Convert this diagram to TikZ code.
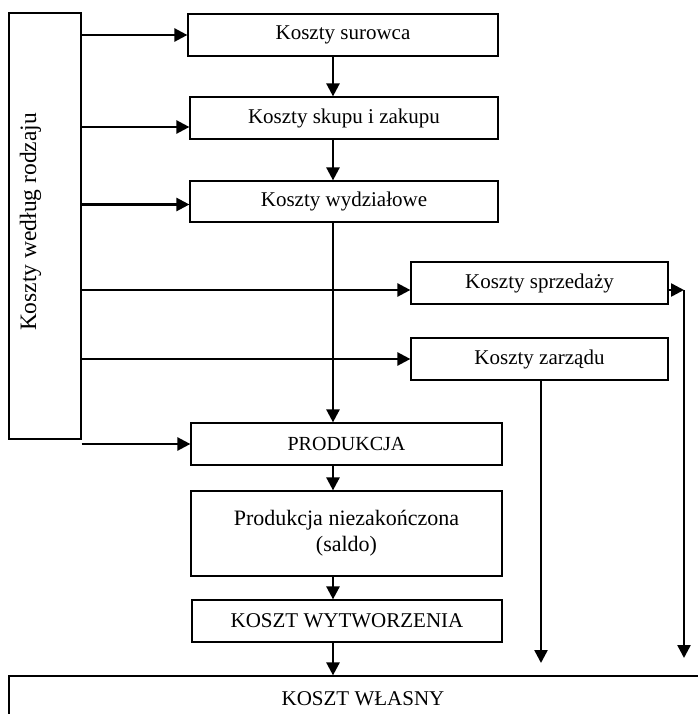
\documentclass[tikz,border=0pt]{standalone}
\usepackage{fontspec}
\setmainfont{Liberation Serif}
\usetikzlibrary{arrows.meta}

\tikzset{
  box/.style={draw, line width=1.2pt, rectangle, inner sep=0pt, font=\fontsize{21}{25}\selectfont},
  arr/.style={line width=2.5pt, -{Triangle[length=13pt,width=13pt]}},
}

\begin{document}
\begin{tikzpicture}[x=1pt,y=-1pt]
  \useasboundingbox (0,0) rectangle (697,714);
  \node[box, minimum width=72pt, minimum height=426pt] (wedlug) at (45,226) {};
  \node[rotate=90, anchor=base, font=\fontsize{23.5}{27}\selectfont] (wedlugtxt) at (36,222) {Koszty według rodzaju};
  \node[box, minimum width=310pt, minimum height=42pt] (surowca) at (343,35) {Koszty surowca};
  \node[box, minimum width=308pt, minimum height=42pt] (skupu) at (344,118) {Koszty skupu i zakupu};
  \node[box, minimum width=308pt, minimum height=41pt] (wydzialowe) at (344,201.5) {Koszty wydziałowe};
  \node[box, minimum width=257pt, minimum height=42pt] (sprzedazy) at (539.5,283) {Koszty sprzedaży};
  \node[box, minimum width=257pt, minimum height=42pt] (zarzadu) at (539.5,359) {Koszty zarządu};
  \node[box, minimum width=311pt, minimum height=42pt, font=\fontsize{20}{24}\selectfont] (produkcja) at (346.5,444) {PRODUKCJA};
  \node[box, minimum width=311pt, minimum height=85pt, align=center, font=\fontsize{22}{26}\selectfont] (saldo) at (346.5,533.5) {Produkcja niezakończona\\(saldo)};
  \node[box, minimum width=310pt, minimum height=42pt] (wytworzenia) at (347,621) {KOSZT WYTWORZENIA};
  \node[box, minimum width=708pt, minimum height=46pt, text depth=0pt] (wlasny) at (363,699) {KOSZT WŁASNY};

  \coordinate (col) at (333,0);
  \draw[arr] (surowca.south -| col) -- (skupu.north -| col);
  \draw[arr] (skupu.south -| col) -- (wydzialowe.north -| col);
  \draw[arr] (wydzialowe.south -| col) -- (produkcja.north -| col);
  \draw[arr] (produkcja.south -| col) -- (saldo.north -| col);
  \draw[arr] (saldo.south -| col) -- (wytworzenia.north -| col);
  \draw[arr] (wytworzenia.south -| col) -- (wlasny.north -| col);

  \coordinate (skupuin) at ([yshift=-9pt]skupu.west);
  \coordinate (wydzin) at ([yshift=-3pt]wydzialowe.west);
  \coordinate (sprzin) at ([yshift=-7pt]sprzedazy.west);
  \coordinate (sprzout) at ([yshift=-7pt]sprzedazy.east);
  \draw[arr] (wedlug.east |- surowca.west) -- (surowca.west);
  \draw[arr] (wedlug.east |- skupuin) -- (skupuin);
  \draw[arr] (wedlug.east |- wydzin) -- (wydzin);
  \draw[arr] (wedlug.east |- sprzin) -- (sprzin);
  \draw[arr] (wedlug.east |- zarzadu.west) -- (zarzadu.west);
  \draw[arr] (wedlug.east |- produkcja.west) -- (produkcja.west);

  \coordinate (sprzend) at (684,290);
  \coordinate (sprzdown) at (684,658);
  \coordinate (zarzdown) at (541,663);
  \draw[arr] (sprzout) -- (sprzend);
  \draw[arr] (sprzend) -- (sprzdown);
  \draw[arr] (zarzadu.south -| zarzdown) -- (zarzdown);
\end{tikzpicture}
\end{document}
